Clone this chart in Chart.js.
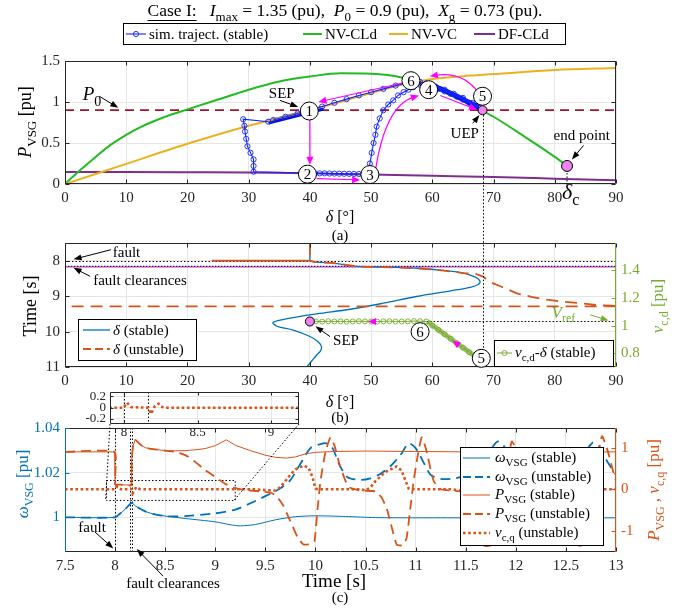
<!DOCTYPE html>
<html><head><meta charset="utf-8">
<script src="https://cdn.jsdelivr.net/npm/chart.js@4.4.1/dist/chart.umd.min.js"></script>
<style>
html,body{margin:0;padding:0;background:#fff;}
#wrap{position:relative;width:676px;height:609px;overflow:hidden;background:#fff;}
canvas{position:absolute;left:0;top:0;}
</style></head><body><div id="wrap">
<canvas id="cA" width="676" height="609"></canvas>
<canvas id="cB" width="676" height="609"></canvas>
<canvas id="cC" width="676" height="609"></canvas>
<canvas id="cI" width="676" height="609"></canvas>
</div>
<script>
// ---------------- DATA : panel (a) ----------------
const deltaCLd = [0,2.5,5,7.5,10,12.5,15,17.5,20,25,30,35,40,45,50,55,60,65,68,70,75,80,82];
const pCLd     = [0,0.17,0.33,0.48,0.6,0.7,0.78,0.85,0.91,1.03,1.15,1.25,1.31,1.35,1.345,1.3,1.18,1.01,0.9,0.82,0.58,0.33,0.22];
const deltaVC  = [0,10,20,30,40,50,55,60,65,70,80,90];
const pVC      = [0,0.245,0.49,0.71,0.9,1.11,1.21,1.28,1.315,1.34,1.39,1.415];
const deltaDF  = [0,10,20,30,40,50,60,70,80,90];
const pDF      = [0.145,0.145,0.143,0.14,0.13,0.115,0.1,0.085,0.065,0.045];
const p0Delta  = [0,90];
const p0Value  = [0.9,0.9];
const trajDelta = [33.2,29.1,29.3,29.4,29.6,29.8,30.3,30.8,30.8,30.8,
  40,40.8,41.6,42.4,43.2,44,44.8,45.6,46.4,47.2,48,48.8,49.5,
  49.8,50.1,50.4,50.7,50.9,51.4,52,52.8,53.6,54.4,55.3,56.1,56.9,58,
  59,60,61,62,63,64,65,66,67,67.6,
  66.5,65,63.5,62,60.5,59,58,
  56,54,52,50,48,46,44,42,40,38,36,34];
const trajP = [0.76,0.79,0.71,0.64,0.55,0.46,0.38,0.3,0.22,0.15,
  0.135,0.13,0.13,0.13,0.128,0.127,0.126,0.125,0.124,0.123,0.122,0.121,0.12,
  0.25,0.38,0.5,0.6,0.7,0.8,0.9,0.97,1.02,1.08,1.12,1.15,1.18,1.21,
  1.22,1.19,1.16,1.13,1.1,1.065,1.03,0.99,0.955,0.935,
  0.99,1.05,1.1,1.15,1.19,1.225,1.245,
  1.235,1.2,1.16,1.12,1.08,1.035,0.99,0.945,0.9,0.86,0.82,0.78];
const bandSepDelta = [33.2,42.2];
const bandSepP     = [0.755,0.925];
const bandUepDelta = [58,60,62,64,66,67.6];
const bandUepP     = [1.22,1.195,1.14,1.07,0.995,0.935];
// ---------------- DATA : panel (b) ----------------
const deltaStable = [40,40,24,40,40.8,43.6,47.5,50,54,58,61.5,65.1,66.4,67.4,67.8,67.5,66.2,63,57.4,52,46.6,41.1,36.8,34,34.6,37.3,40,41.3,41.9,41.7,41.1,40.3,39.5];
const timeStable  = [7.5,8.0,8.0,8.0,8.04,8.06,8.16,8.175,8.19,8.22,8.27,8.35,8.42,8.5,8.59,8.67,8.75,8.85,9.01,9.2,9.37,9.5,9.62,9.74,9.85,9.96,10.14,10.28,10.43,10.55,10.66,10.83,11.0];
const deltaUnstable = [40,40,24,40,40.8,43.6,47.5,50,54,58,61.5,65.1,67.2,68.2,69.4,71.5,73.8,76.2,78.7,81.5,84.1,87,89,92,-2];
const timeUnstable  = [7.5,8.0,8.0,8.0,8.04,8.06,8.16,8.175,8.19,8.22,8.27,8.35,8.38,8.44,8.6,8.75,8.92,9.02,9.1,9.16,9.2,9.25,9.27,9.29,9.29];
const vcdDelta = [40,41,42,43,44,45,46,47,48,49,50,51,52,53,54,55,56,57,58,59,60,61,62,63,64,65,66,67];
const vcdValue = [1.03,1.031,1.029,1.032,1.03,1.031,1.029,1.03,1.032,1.031,1.03,1.029,1.031,1.032,1.03,1.03,1.031,1.033,1.032,1.03,1.0,0.968,0.937,0.905,0.872,0.84,0.808,0.776];
const vcdBandDelta = [59.2,63,67.2];
const vcdBandValue = [1.03,0.905,0.77];
// ---------------- DATA : panel (c) ----------------
const tOmegaS = [7.5,8.0,8.05,8.1,8.165,8.2,8.3,8.4,8.5,8.7,9.0,9.15,9.25,9.4,9.6,9.8,10.0,10.3,10.6,11.0,11.5,12.0,12.5,13.0];
const omegaS  = [1,1,1.0017,1.0036,1.0065,1.0052,1.0027,1.0013,1.0006,0.9995,0.998,0.9967,0.9962,0.9968,0.9989,1.0003,1.0007,1.0004,0.9999,0.9998,0.9998,0.9998,0.9998,0.9998];
const tOmegaU = [7.5,8.0,8.05,8.1,8.165,8.2,8.3,8.4,8.52,8.7,9.0,9.2,9.35,9.5,9.65,9.75,9.85,9.95,10.05,10.11,10.17,10.24,10.32,10.45,10.55,10.65,10.75,10.85,10.93,11.0,11.08,11.15,11.25,11.4,11.5,11.6,11.7,11.76,11.82,11.88,11.95,12.05,12.2,12.35,12.45,12.55,12.65,12.72,12.77,12.83,12.9,13.0];
const omegaU  = [1,1,1.0017,1.0036,1.0065,1.0052,1.0027,1.0013,1.0005,1.0006,1.0018,1.0035,1.0063,1.0095,1.013,1.0167,1.024,1.031,1.0328,1.0331,1.031,1.0235,1.018,1.0168,1.0175,1.0195,1.023,1.028,1.0331,1.031,1.0245,1.019,1.0172,1.0175,1.019,1.022,1.027,1.031,1.034,1.032,1.026,1.019,1.0172,1.0175,1.019,1.022,1.027,1.031,1.0335,1.032,1.026,1.019];
const tPS = [7.5,7.995,8.0,8.05,8.16,8.165,8.18,8.2,8.25,8.3,8.4,8.5,8.6,8.7,8.8,8.9,9.0,9.11,9.2,9.35,9.5,9.6,9.71,9.8,9.9,10.0,10.2,10.5,11.0,11.5,12.0,12.5,13.0];
const pS  = [0.9,0.9,0.12,0.11,0.1,0.7,1.05,1.19,1.08,1.0,0.96,0.93,0.925,0.93,0.95,0.98,1.05,1.19,1.06,0.93,0.82,0.77,0.75,0.78,0.85,0.89,0.91,0.92,0.91,0.9,0.9,0.9,0.9];
const tPU = [7.5,7.995,8.0,8.05,8.16,8.165,8.18,8.2,8.25,8.3,8.4,8.5,8.6,8.71,8.8,8.9,9.01,9.1,9.18,9.3,9.45,9.55,9.61,9.68,9.75,9.82,9.88,9.95,9.99,10.02,10.05,10.1,10.15,10.19,10.24,10.3,10.34,10.45,10.6,10.66,10.71,10.76,10.81,10.87,10.91,10.95,10.98,11.02,11.06,11.1,11.18,11.25,11.4,11.5,11.56,11.62,11.68,11.76,11.81,11.85,11.9,11.96,12.0,12.07,12.15,12.3,12.4,12.46,12.52,12.58,12.66,12.71,12.75,12.8,12.86,12.92,12.97,13.0];
const pU  = [0.9,0.9,0.12,0.11,0.1,0.7,1.05,1.19,1.08,1.0,0.96,0.93,0.9,0.81,0.66,0.46,0.28,0.13,0.04,-0.02,-0.05,-0.08,-0.16,-0.4,-0.77,-1.15,-1.33,-1.32,-1.25,-0.5,0.2,0.9,1.25,1.05,0.6,0.2,0.04,-0.03,-0.05,-0.2,-0.45,-0.9,-1.33,-1.35,-1.17,-0.4,0.2,0.8,1.25,1.0,0.2,0.0,-0.04,-0.08,-0.3,-0.9,-1.35,-1.35,-1.1,-0.3,0.5,1.15,1.0,0.3,0.02,-0.03,-0.06,-0.3,-0.9,-1.35,-1.35,-1.1,-0.3,0.5,1.28,0.9,0.44,0.2];
const tVcq = [7.5,8.0,8.02,8.04,8.06,8.165,8.175,8.19,8.21,8.25,9.4,9.5,9.6,9.65,9.7,9.75,9.8,9.88,9.93,9.97,10.0,10.02,10.45,10.5,10.55,10.6,10.7,10.81,10.86,10.9,10.93,10.95,11.35,11.45,11.5,11.6,11.72,11.78,11.83,11.85,12.25,12.35,12.4,12.5,12.62,12.68,12.73,12.75,13.0];
const vcq  = [0,0,0.07,0.02,0,0,-0.1,-0.04,0.05,0,0,-0.02,-0.03,0.05,0.2,0.35,0.48,0.57,0.52,0.3,0.02,0,0,-0.03,0.05,0.2,0.42,0.55,0.45,0.2,0.02,0,0,-0.03,0.05,0.3,0.55,0.45,0.1,0,0,-0.03,0.05,0.3,0.55,0.45,0.1,0,0];
const tInset   = [7.9,8.0,8.01,8.02,8.035,8.05,8.166,8.175,8.185,8.195,8.21,8.235,8.25,8.28,9.2];
const vcqInset = [0,0,0.05,0.09,0.05,0.01,0,-0.06,-0.11,-0.05,0.03,0.07,0.02,0,0];
// ---------------- TICKS ----------------
const degTicks    = [0,10,20,30,40,50,60,70,80,90];
const pTicks      = [0,0.5,1,1.5];
const timeTicksB  = [8,9,10,11];
const vcdTicks    = [0.8,1,1.2,1.4];
const timeTicksC  = [7.5,8,8.5,9,9.5,10,10.5,11,11.5,12,12.5,13];
const omegaTicks  = [1,1.02,1.04];
const rightTicksC = [-1,0,1];
const insetXTicks = [8,8.5,9];
const insetYTicks = [-0.2,0,0.2];

// ---------------- STYLE / HELPERS ----------------
const FF = "'Liberation Serif','Times New Roman',serif";
const K='#262626', BLUE='#0072BD', ORG='#D95319', GRN='#77AC30', YEL='#EDB120', PUR='#7E2F8E',
      LIME='#22BB22', TRAJ='#1226FF', MAG='#FF00FF', P0C='#A2142F', PINK='#EE82EE';
Chart.defaults.font.family = FF;
const zip=(xs,ys)=>xs.map((x,i)=>({x:x,y:ys[i]}));
function fmt(v){ return String(Math.round(v*1000)/1000); }
function line(xs,ys,color,w,extra){
  return Object.assign({data:zip(xs,ys),showLine:true,borderColor:color,backgroundColor:color,borderWidth:w,pointRadius:0,tension:0,fill:false},extra||{});
}
function sc(pos,min,max,tickArr,size,color,o){
  o=o||{}; const horiz=(pos==='bottom'||pos==='top');
  return {type:'linear',position:pos,min:min,max:max,reverse:!!o.reverse,
    afterBuildTicks:function(s){ s.ticks=tickArr.map(v=>({value:v})); },
    ticks:{autoSkip:false,maxRotation:0,minRotation:0,padding:(o.pad!==undefined?o.pad:5),color:color,font:{family:FF,size:o.fs||15},callback:function(v){return fmt(v);}},
    grid:{display:o.grid!==false,color:'#e6e6e6',lineWidth:1,drawTicks:false},
    border:{display:false},
    afterFit:function(s){ if(horiz) s.height=size; else s.width=size; s.paddingTop=0;s.paddingBottom=0;s.paddingLeft=0;s.paddingRight=0; }
  };
}
function fnt(sz,it){ return (it?'italic ':'')+sz+'px '+FF; }
function rich(c,parts,x,y,sz,color,align){
  c.save(); c.fillStyle=color; c.textBaseline='alphabetic'; c.textAlign='left';
  const items=parts.map(function(p){ const f=p[1]||''; const sub=f.indexOf('s')>=0; const s=sub?Math.round(sz*0.72):sz;
    const font=fnt(s,f.indexOf('i')>=0); c.font=font; return {t:p[0],font:font,w:c.measureText(p[0]).width,dy:sub?sz*0.28:0}; });
  const W=items.reduce((a,b)=>a+b.w,0);
  let cx= align==='center'? x-W/2 : (align==='right'? x-W : x);
  const base=y+sz*0.35;
  items.forEach(function(it){ c.font=it.font; c.fillText(it.t,cx,base+it.dy); cx+=it.w; });
  c.restore(); return W;
}
function rotRich(c,parts,x,y,sz,color){ c.save(); c.translate(x,y); c.rotate(-Math.PI/2); rich(c,parts,0,0,sz,color,'center'); c.restore(); }
function seg(c,x1,y1,x2,y2,color,lw,dash){ c.save(); c.strokeStyle=color; c.lineWidth=lw; c.setLineDash(dash||[]); c.beginPath(); c.moveTo(x1,y1); c.lineTo(x2,y2); c.stroke(); c.restore(); }
function dotted(c,x1,y1,x2,y2,color){ seg(c,x1,y1,x2,y2,color||'#000',1,[1.5,2]); }
function head(c,x,y,ang,color,hl,hw){
  c.save(); c.fillStyle=color; c.beginPath(); c.moveTo(x,y);
  c.lineTo(x-hl*Math.cos(ang)+hw*Math.sin(ang), y-hl*Math.sin(ang)-hw*Math.cos(ang));
  c.lineTo(x-hl*Math.cos(ang)-hw*Math.sin(ang), y-hl*Math.sin(ang)+hw*Math.cos(ang));
  c.closePath(); c.fill(); c.restore();
}
function arrow(c,x1,y1,x2,y2,color,lw,hl,hw){
  const a=Math.atan2(y2-y1,x2-x1);
  seg(c,x1,y1,x2-Math.cos(a)*hl*0.7,y2-Math.sin(a)*hl*0.7,color,lw);
  head(c,x2,y2,a,color,hl,hw);
}
function curveArrow(c,x1,y1,cx,cy,x2,y2,color,lw,hl,hw){
  const a=Math.atan2(y2-cy,x2-cx);
  c.save(); c.strokeStyle=color; c.lineWidth=lw; c.beginPath(); c.moveTo(x1,y1);
  c.quadraticCurveTo(cx,cy,x2-Math.cos(a)*hl*0.7,y2-Math.sin(a)*hl*0.7); c.stroke(); c.restore();
  head(c,x2,y2,a,color,hl,hw);
}
function circ(c,x,y,r,fill){ c.save(); c.fillStyle=fill; c.strokeStyle='#000'; c.lineWidth=1; c.beginPath(); c.arc(x,y,r,0,2*Math.PI); c.fill(); c.stroke(); c.restore(); }
function num(c,x,y,n){ circ(c,x,y,9,'#fff'); c.save(); c.fillStyle='#000'; c.font=fnt(15); c.textAlign='center'; c.textBaseline='middle'; c.fillText(n,x,y+1); c.restore(); }
function txt(c,s,x,y,sz,color,align){ rich(c,[[s,'']],x,y,sz,color,align||'center'); }
function sample(c,x1,x2,y,color,lw,dash,marker){
  seg(c,x1,y,x2,y,color,lw,dash);
  if(marker){ c.save(); c.strokeStyle=color; c.lineWidth=0.9; c.beginPath(); c.arc((x1+x2)/2,y,2.6,0,2*Math.PI); c.stroke(); c.restore(); }
}
function legBox(c,x,y,w,h){ c.save(); c.fillStyle='#fff'; c.fillRect(x,y,w,h); c.strokeStyle='#000'; c.lineWidth=1; c.strokeRect(x+0.5,y+0.5,w,h); c.restore(); }
function frame(ch,leftColor,rightColor,rightAxis,tl){
  tl=tl||4; const c=ch.ctx,a=ch.chartArea,s=ch.scales;
  const L=Math.round(a.left)+0.5,R=Math.round(a.right)-0.5,T=Math.round(a.top)+0.5,B=Math.round(a.bottom)-0.5;
  c.save(); c.lineWidth=1; c.setLineDash([]);
  c.strokeStyle=K; c.beginPath(); c.moveTo(L,T); c.lineTo(R,T); c.moveTo(L,B); c.lineTo(R,B);
  s.x.ticks.forEach(function(t){ const x=Math.round(s.x.getPixelForValue(t.value))+0.5; c.moveTo(x,B); c.lineTo(x,B-tl); c.moveTo(x,T); c.lineTo(x,T+tl); });
  c.stroke();
  c.strokeStyle=leftColor; c.beginPath(); c.moveTo(L,T); c.lineTo(L,B);
  s.y.ticks.forEach(function(t){ const y=Math.round(s.y.getPixelForValue(t.value))+0.5; c.moveTo(L,y); c.lineTo(L+tl,y); });
  c.stroke();
  const rs=rightAxis?s[rightAxis]:s.y;
  c.strokeStyle=rightColor; c.beginPath(); c.moveTo(R,T); c.lineTo(R,B);
  rs.ticks.forEach(function(t){ const y=Math.round(rs.getPixelForValue(t.value))+0.5; c.moveTo(R,y); c.lineTo(R-tl,y); });
  c.stroke(); c.restore();
}
function baseOpts(padding,scales){
  return {responsive:false,animation:false,events:[],devicePixelRatio:1,
    layout:{padding:padding},plugins:{legend:{display:false},tooltip:{enabled:false}},scales:scales};
}

// ---------------- PANEL (a) ----------------
const chA = new Chart(document.getElementById('cA'),{
  type:'scatter',
  data:{datasets:[
    line(trajDelta,trajP,TRAJ,1.1,{order:0,pointRadius:2.6,pointBorderWidth:0.9,pointBorderColor:TRAJ,pointBackgroundColor:'rgba(0,0,0,0)'}),
    line(deltaVC,pVC,YEL,2,{order:1,cubicInterpolationMode:'monotone'}),
    line(bandSepDelta,bandSepP,'#0010E0',5,{order:2}),
    line(bandUepDelta,bandUepP,'#0010E0',5,{order:2,tension:0.3}),
    line(deltaCLd,pCLd,LIME,2,{order:3,cubicInterpolationMode:'monotone'}),
    line(deltaDF,pDF,PUR,2,{order:4,cubicInterpolationMode:'monotone'}),
    line(p0Delta,p0Value,P0C,1.8,{order:5,borderDash:[9,6]})
  ]},
  options:baseOpts({left:0,right:60,top:61,bottom:395},{
    x:sc('bottom',0,90,degTicks,30,K),
    y:sc('left',0,1.5,pTicks,65,K)
  }),
  plugins:[{id:'pA',afterDraw:function(ch){
    const c=ch.ctx,X=v=>ch.scales.x.getPixelForValue(v),Y=v=>ch.scales.y.getPixelForValue(v);
    frame(ch,K,K,null);
    arrow(c,X(40),Y(0.82),X(40),Y(0.235),MAG,1.2,8,3.5);
    arrow(c,X(41.1),Y(0.065),X(48.2),Y(0.05),MAG,1.2,8,3.5);
    curveArrow(c,X(50.7),Y(0.16),X(52.3),Y(0.95),X(57.8),Y(1.08),MAG,1.2,8,3.5);
    arrow(c,X(61.3),Y(1.08),X(67.3),Y(0.905),MAG,1.2,8,3.5);
    curveArrow(c,X(67.6),Y(1.11),X(65),Y(1.38),X(59.6),Y(1.315),MAG,1.2,8,3.5);
    arrow(c,X(55.3),Y(1.235),X(41.4),Y(1.0),MAG,1.2,8,3.5);
    dotted(c,X(82),Y(0.22),X(82),Y(0)+3);
    circ(c,X(68.2),Y(0.9),4.5,PINK); circ(c,X(82),Y(0.22),5.5,PINK);
    num(c,X(39.9),Y(0.89),'1'); num(c,X(39.6),Y(0.12),'2'); num(c,X(49.8),Y(0.115),'3');
    num(c,X(59.4),Y(1.15),'4'); num(c,X(68.2),Y(1.07),'5'); num(c,X(56.5),Y(1.26),'6');
    rich(c,[['P','i'],['0','s']],X(4.4),Y(1.1),19,'#000','center');
    arrow(c,X(5.6),Y(1.07),X(8.7),Y(0.93),'#000',1,8,3);
    txt(c,'SEP',X(35.4),Y(1.11),15,'#000');
    arrow(c,X(35.1),Y(1.02),X(38.1),Y(0.94),'#000',1,8,3);
    txt(c,'UEP',X(65.3),Y(0.62),15,'#000');
    arrow(c,X(66.6),Y(0.74),X(67.7),Y(0.84),'#000',1,8,3);
    txt(c,'end point',X(84.4),Y(0.6),15,'#000');
    arrow(c,X(84.7),Y(0.47),X(82.8),Y(0.3),'#000',1,8,3);
    rich(c,[['δ','i'],['c','s']],X(82.6),Y(0)+7,22,'#000','center');
    rotRich(c,[['P','i'],['VSG','s'],[' [pu]','']],25,122,18,'#000');
    rich(c,[['δ','i'],[' [°]','']],340,216,16,'#000','center');
    txt(c,'(a)',340,235,15,'#000');
    const tp=[['Case I:',''],['   ',''],['I','i'],['max','s'],[' = 1.35 (pu),  ',''],['P','i'],['0','s'],[' = 0.9 (pu),  ',''],['X','i'],['g','s'],[' = 0.73 (pu).','']];
    const W=rich(c,tp,345,10,17.5,'#000','center');
    c.font=fnt(17.5); const wc=c.measureText('Case I:').width; const x0=345-W/2;
    seg(c,x0,20.5,x0+wc,20.5,'#000',1);
    legBox(c,123,23,442,21);
    sample(c,126,146,34,TRAJ,1.1,null,true); txt(c,'sim. traject. (stable)',149,34,15,'#000','left');
    sample(c,303,322,34,LIME,2); txt(c,'NV-CLd',325,34,15,'#000','left');
    sample(c,389,408,34,YEL,2); txt(c,'NV-VC',411,34,15,'#000','left');
    sample(c,474,495,34,PUR,2); txt(c,'DF-CLd',498,34,15,'#000','left');
  }}]
});

// ---------------- PANEL (b) ----------------
const chB = new Chart(document.getElementById('cB'),{
  type:'scatter',
  data:{datasets:[
    line(vcdDelta,vcdValue,GRN,1,{yAxisID:'y2',order:0,pointRadius:2.5,pointBorderWidth:0.9,pointBorderColor:GRN,pointBackgroundColor:'rgba(0,0,0,0)'}),
    line(vcdBandDelta,vcdBandValue,'rgba(119,172,48,0.75)',5,{yAxisID:'y2',order:1}),
    line(deltaUnstable,timeUnstable,ORG,1.8,{yAxisID:'y',order:2,borderDash:[12,7]}),
    line(deltaStable.slice(0,7),timeStable.slice(0,7),BLUE,1.3,{yAxisID:'y',order:3}),
    line(deltaStable.slice(6),timeStable.slice(6),BLUE,1.3,{yAxisID:'y',order:3,tension:0.35})
  ]},
  options:baseOpts({left:0,right:0,top:243,bottom:212},{
    x:sc('bottom',0,90,degTicks,30,K),
    y:sc('left',7.5,11,timeTicksB,65,K,{reverse:true}),
    y2:sc('right',0.7,1.599,vcdTicks,60,GRN,{grid:false})
  }),
  plugins:[{id:'pB',
   beforeDatasetsDraw:function(ch){
    const c=ch.ctx,a=ch.chartArea,X=v=>ch.scales.x.getPixelForValue(v),Y=v=>ch.scales.y.getPixelForValue(v),Y2=v=>ch.scales.y2.getPixelForValue(v);
    const y8=Math.round(Y(8))+0.5, yc=Math.round(Y(8.16))+0.5;
    dotted(c,a.left,y8,a.right,y8,'#000');
    seg(c,a.left,yc,a.right,yc,'#0000FF',1.3,[1.5,1.5]);
    seg(c,a.left+1.5,yc+0.5,a.right,yc+0.5,'#FF0000',1,[1.5,1.5]);
    const yv=Math.round(Y2(1.03))+0.5;
    dotted(c,X(58.5),yv,a.right,yv,'#000');
   },
   afterDraw:function(ch){
    const c=ch.ctx,a=ch.chartArea,X=v=>ch.scales.x.getPixelForValue(v),Y=v=>ch.scales.y.getPixelForValue(v),Y2=v=>ch.scales.y2.getPixelForValue(v);
    frame(ch,K,GRN,'y2');
    const xu=Math.round(X(68.2))+0.5;
    dotted(c,xu,chA.scales.y.getPixelForValue(0.9)+5,xu,Y2(0.763)-9,'#000');
    head(c,X(49.5),Y2(1.03),Math.PI,MAG,8,3.5);
    const ang=Math.atan2(Y2(1.03)-Y2(0.776),X(59)-X(67));
    head(c,X(63.3),Y2(0.89),ang,MAG,8,3.5);
    circ(c,X(40),Y2(1.03),4.5,PINK);
    txt(c,'SEP',X(45.9),Y2(0.895),15,'#000');
    arrow(c,X(43.3),Y2(0.92),X(40.9),Y2(0.995),'#000',1,8,3);
    num(c,X(58),Y2(0.956),'6'); num(c,X(68),Y2(0.763),'5');
    txt(c,'fault',X(7.8),Y(7.74),15,'#000','left');
    arrow(c,X(7.5),Y(7.69),X(1.4),Y(7.96),'#000',1,8,3);
    txt(c,'fault clearances',X(4.6),Y(8.54),15,'#000','left');
    arrow(c,X(4.1),Y(8.44),X(1.4),Y(8.2),'#000',1,8,3);
    rich(c,[['V','i'],['ref','s']],X(81.4),Y2(1.102),17,GRN,'center');
    arrow(c,X(85.8),Y2(1.078),X(88.8),Y2(1.037),GRN,1,8,3);
    legBox(c,78,319,118,41);
    sample(c,83,110,330,BLUE,1.3); rich(c,[['δ','i'],[' (stable)','']],113,330,15,'#000','left');
    sample(c,83,110,349,ORG,1.8,[8,4]); rich(c,[['δ','i'],[' (unstable)','']],113,349,15,'#000','left');
    legBox(c,494,340,119,26);
    sample(c,497,512,353,GRN,1,null,true); rich(c,[['v','i'],['c,d','s'],['-',''],['δ','i'],[' (stable)','']],515,352,15,'#000','left');
    rotRich(c,[['Time [s]','']],30,306,18,'#000');
    rotRich(c,[['v','i'],['c,d','s'],[' [pu]','']],657,306,17,GRN);
    rich(c,[['δ','i'],[' [°]','']],340,401,16,'#000','center');
    txt(c,'(b)',340,417,15,'#000');
   }}]
});

// ---------------- PANEL (c) ----------------
const chC = new Chart(document.getElementById('cC'),{
  type:'scatter',
  data:{datasets:[
    line(tVcq,vcq,ORG,2.6,{yAxisID:'y2',order:0,borderDash:[2.6,2.6]}),
    line(tPU,pU,ORG,1.8,{yAxisID:'y2',order:1,borderDash:[10,6],tension:0.15}),
    line(tPS,pS,ORG,1,{yAxisID:'y2',order:2}),
    line(tOmegaU,omegaU,BLUE,1.8,{yAxisID:'y',order:3,borderDash:[10,6],tension:0.25}),
    line(tOmegaS,omegaS,BLUE,1,{yAxisID:'y',order:4,tension:0.25})
  ]},
  options:baseOpts({left:0,right:0,top:428,bottom:27},{
    x:sc('bottom',7.5,13,timeTicksC,30,K),
    y:sc('left',0.9845,1.04,omegaTicks,65,BLUE),
    y2:sc('right',-1.51,1.475,rightTicksC,60,ORG,{grid:false})
  }),
  plugins:[{id:'pC',
   beforeDatasetsDraw:function(ch){
    const c=ch.ctx,a=ch.chartArea,X=v=>ch.scales.x.getPixelForValue(v),Y2=v=>ch.scales.y2.getPixelForValue(v);
    [8,8.15,8.17].forEach(function(t){ const x=Math.round(X(t))+0.5; dotted(c,x,a.top,x,a.bottom,'#000'); });
    c.save(); c.strokeStyle='#000'; c.lineWidth=1; c.setLineDash([1.5,2]);
    c.strokeRect(Math.round(X(7.905))+0.5,Math.round(Y2(0.22))+0.5,X(9.19)-X(7.905),Y2(-0.26)-Y2(0.22)); c.restore();
   },
   afterDraw:function(ch){
    const c=ch.ctx,X=v=>ch.scales.x.getPixelForValue(v),Y=v=>ch.scales.y.getPixelForValue(v);
    frame(ch,BLUE,ORG,'y2');
    txt(c,'fault',X(7.77),Y(0.99565),15,'#000');
    arrow(c,X(7.8),Y(0.9934),X(7.982),Y(0.9861),'#000',1,8,3);
    txt(c,'fault clearances',X(8.578),Y(0.97057),15,'#000');
    arrow(c,X(8.48),Y(0.9737),X(8.216),Y(0.9858),'#000',1,8,3);
    legBox(c,460,447,143,98);
    const rows=[
      [BLUE,1,null,[['ω','i'],['VSG','s'],[' (stable)','']]],
      [BLUE,1.8,[8,4],[['ω','i'],['VSG','s'],[' (unstable)','']]],
      [ORG,1,null,[['P','i'],['VSG','s'],[' (stable)','']]],
      [ORG,1.8,[8,4],[['P','i'],['VSG','s'],[' (unstable)','']]],
      [ORG,2.6,[2.6,2.6],[['v','i'],['c,q','s'],[' (unstable)','']]]];
    const ys=[458,477,495,514,533];
    rows.forEach(function(r,i){ sample(c,463,490,ys[i],r[0],r[1],r[2]); rich(c,r[3],495,ys[i]-1,15,'#000','left'); });
    rotRich(c,[['ω','i'],['VSG','s'],[' [pu]','']],22,484,17,BLUE);
    rotRich(c,[['P','i'],['VSG','s'],[' , ',''],['v','i'],['c,q','s'],[' [pu]','']],653,490,17,ORG);
    txt(c,'Time [s]',334,580,19,'#000');
    txt(c,'(c)',340,597,15,'#000');
   }}]
});

// ---------------- INSET ----------------
const chI = new Chart(document.getElementById('cI'),{
  type:'scatter',
  data:{datasets:[ line(tInset,vcqInset,ORG,2.6,{borderDash:[2.6,2.6]}) ]},
  options:baseOpts({left:60,right:377,top:392,bottom:169},{
    x:sc('bottom',7.905,9.19,insetXTicks,16,K,{fs:13,pad:1}),
    y:sc('left',-0.29,0.28,insetYTicks,50,K,{fs:13,pad:4})
  }),
  plugins:[{id:'pI',
   beforeDraw:function(ch){ const c=ch.ctx,a=ch.chartArea; c.save(); c.fillStyle='#fff'; c.fillRect(a.left,a.top,a.right-a.left,a.bottom-a.top); c.restore(); },
   beforeDatasetsDraw:function(ch){
    const c=ch.ctx,a=ch.chartArea,X=v=>ch.scales.x.getPixelForValue(v);
    [8,8.166].forEach(function(t){ const x=Math.round(X(t))+0.5; dotted(c,x,a.top,x,a.bottom,'#000'); });
   },
   afterDraw:function(ch){
    const c=ch.ctx,a=ch.chartArea;
    frame(ch,K,K,null,3);
    const CX=v=>chC.scales.x.getPixelForValue(v),CY=v=>chC.scales.y2.getPixelForValue(v);
    dotted(c,a.left,a.bottom,CX(7.905),CY(-0.26),'#000');
    dotted(c,a.right,a.bottom,CX(9.19),CY(-0.26),'#000');
   }}]
});
</script></body></html>
